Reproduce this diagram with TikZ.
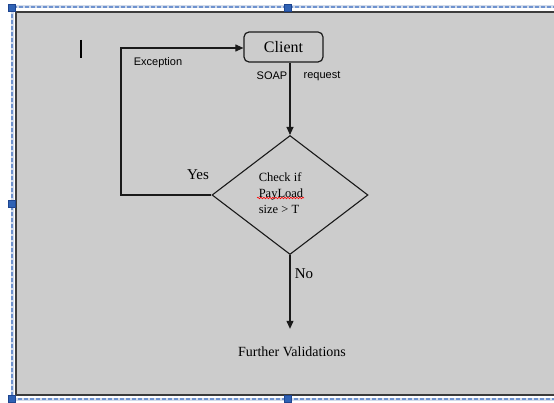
\documentclass[tikz,border=0pt]{standalone}
\usepackage{fontspec}
\setmainfont{Liberation Serif}
\setsansfont{Liberation Sans}
\usetikzlibrary{shapes.geometric,arrows.meta,decorations.pathmorphing}

\definecolor{canvas}{HTML}{CCCCCC}
\definecolor{framegray}{HTML}{3C3C3C}
\definecolor{selband}{HTML}{D3DCEB}
\definecolor{seldash}{HTML}{6F93CF}
\definecolor{handle}{HTML}{2F62B5}
\definecolor{handleedge}{HTML}{1E4590}
\definecolor{inkline}{HTML}{1A1A1A}

\begin{document}
\begin{tikzpicture}[x=1pt,y=-1pt,
  serifbig/.style={font=\fontsize{16}{18}\selectfont},
  seriflabel/.style={font=\fontsize{15}{17}\selectfont, inner sep=0pt},
  sanssmall/.style={font=\sffamily\fontsize{11}{13}\selectfont, inner sep=0pt},
  clientbox/.style={draw=inkline, line width=1.2pt, rounded corners=5pt,
    minimum width=79pt, minimum height=30pt, inner sep=0pt, serifbig},
  decision/.style={draw=inkline, line width=1.1pt, diamond,
    minimum width=156pt, minimum height=119pt, inner sep=0pt},
  flow/.style={draw=inkline, line width=1.1pt},
  flowarrow/.style={flow, -{Triangle[length=8pt,width=7pt]}},
  selband/.style={draw=selband, line width=3pt},
  seldash/.style={draw=seldash, line width=2.2pt, dash pattern=on 4pt off 2pt},
  selhandle/.style={fill=handle, draw=handleedge, line width=0.6pt}
]
\useasboundingbox (0,0) rectangle (554,403);
\clip (0,0) rectangle (554,403);
\fill[white] (0,0) rectangle (554,403);

% selection outline around the drawing canvas
\draw[selband] (12,420) -- (12,7) -- (600,7);
\draw[selband] (12,399) -- (600,399);
\draw[seldash] (12,420) -- (12,7) -- (600,7);
\draw[seldash] (12,399) -- (600,399);

% drawing canvas
\fill[canvas] (16,12) rectangle (600,395);
\draw[framegray, line width=2pt] (600,12) -- (16,12) -- (16,395) -- (600,395);

% sizing handles
\foreach \hx/\hy in {12/8, 288/8, 12/204, 288/399, 12/399}
  \filldraw[selhandle] (\hx-3.5,\hy-3.5) rectangle (\hx+3.5,\hy+3.5);

% text cursor
\draw[black, line width=2pt] (81,40) -- (81,58);

% flowchart nodes
\node[clientbox] (client) at (283.5,47) {Client};
\node[decision] (dia) at (290,195) {};
\node[font=\fontsize{12.5}{16}\selectfont, align=left, inner sep=0pt] (chk) at (281,193)
  {Check if\\PayLoad\\size > T};
\node[font=\fontsize{14}{16}\selectfont, inner sep=0pt] (fv) at (292,352) {Further Validations};

% labels
\node[sanssmall] (exc) at (158,63) {Exception};
\node[sanssmall] (soap) at (272,76) {SOAP};
\node[sanssmall] (req) at (322,76) {request};
\node[seriflabel] (yes) at (198,175) {Yes};
\node[seriflabel] (no) at (304,274) {No};

% spelling underline
\coordinate (wavyA) at (257,198);
\coordinate (wavyB) at (304,198);
\draw[red, line width=0.6pt, decorate,
  decoration={snake, amplitude=0.8pt, segment length=3pt}] (wavyA) -- (wavyB);

% connectors
\coordinate (loopTop) at (121,48);
\coordinate (loopBot) at (121,195);
\draw[flowarrow] (dia.west) -- (loopBot) -- (loopTop) -- (client.west |- loopTop);
\draw[flowarrow] (dia.north |- client.south) -- (dia.north);
\draw[flowarrow, shorten >=18pt] (dia.south) -- (dia.south |- fv.north);
\end{tikzpicture}
\end{document}
